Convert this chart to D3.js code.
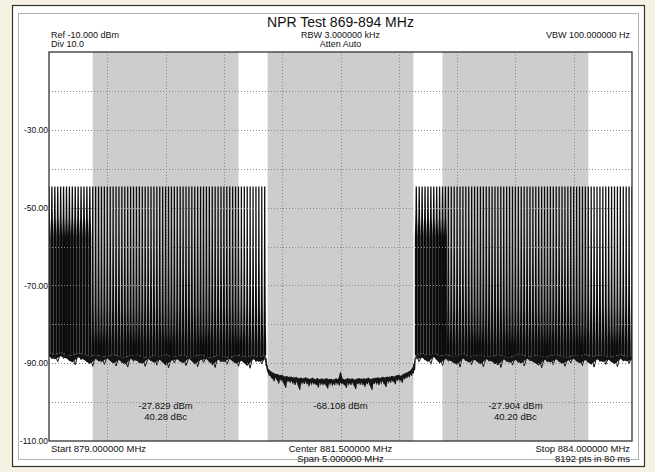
<!DOCTYPE html>
<html><head><meta charset="utf-8">
<script src="https://cdn.jsdelivr.net/npm/d3@7"></script>
<style>
body{margin:0;background:#f6f2e3;}
svg{display:block}
text{font-family:"Liberation Sans",Arial,sans-serif;fill:#111;}
</style>
</head><body><svg id="c" width="655" height="472"></svg>
<script>
// ---------- DATA ----------
const title = "NPR Test 869-894 MHz";
const headerLeft = ["Ref -10.000 dBm", "Div 10.0"];
const headerCenter = ["RBW 3.000000 kHz", "Atten Auto"];
const headerRight = ["VBW 100.000000 Hz"];
const footerLeft = ["Start 879.000000 MHz"];
const footerCenter = ["Center 881.500000 MHz", "Span 5.000000 MHz"];
const footerRight = ["Stop 884.000000 MHz", "8192 pts in 80 ms"];

const freqDomain = [879, 884];          // MHz
const levelDomain = [-110, -10];        // dBm
const yTickValues = [-30, -50, -70, -90, -110];
const yTickLabels = ["-30.00", "-50.00", "-70.00", "-90.00", "-110.00"];
const gridLevels = [-20, -30, -40, -50, -60, -70, -80, -90, -100];
const gridFreqs = [879.5, 880.0, 880.5, 881.0, 881.5, 882.0, 882.5, 883.0, 883.5];

const bandStarts = [879.375, 880.875, 882.375];
const bandStops  = [880.625, 882.125, 883.625];
const bandPower  = ["-27.829 dBm", "-68.108 dBm", "-27.904 dBm"];
const bandRatio  = ["40.28 dBc", "", "40.20 dBc"];

const tonePeak = -44.6; // dBm
const leftTones = [879.000,879.025,879.050,879.075,879.100,879.125,879.150,879.175,879.200,879.225,879.250,879.275,879.300,879.325,879.350,879.375,879.400,879.425,879.450,879.475,879.500,879.525,879.550,879.575,879.600,879.625,879.650,879.675,879.700,879.725,879.750,879.775,879.800,879.825,879.850,879.875,879.900,879.925,879.950,879.975,880.000,880.025,880.050,880.075,880.100,880.125,880.150,880.175,880.200,880.225,880.250,880.275,880.300,880.325,880.350,880.375,880.400,880.425,880.450,880.475,880.500,880.525,880.550,880.575,880.600,880.625,880.650,880.675,880.700,880.725,880.750,880.775,880.800,880.825,880.850];
const rightTones = [882.150,882.175,882.200,882.225,882.250,882.275,882.300,882.325,882.350,882.375,882.400,882.425,882.450,882.475,882.500,882.525,882.550,882.575,882.600,882.625,882.650,882.675,882.700,882.725,882.750,882.775,882.800,882.825,882.850,882.875,882.900,882.925,882.950,882.975,883.000,883.025,883.050,883.075,883.100,883.125,883.150,883.175,883.200,883.225,883.250,883.275,883.300,883.325,883.350,883.375,883.400,883.425,883.450,883.475,883.500,883.525,883.550,883.575,883.600,883.625,883.650,883.675,883.700,883.725,883.750,883.775,883.800,883.825,883.850,883.875,883.900,883.925,883.950,883.975,884.000];
const denseStarts = [879.000, 882.150];
const denseStops  = [879.360, 882.400];

const floorFreqL = [879.00,879.05,879.10,879.15,879.20,879.25,879.30,879.35,879.40,879.45,879.50,879.55,879.60,879.65,879.70,879.75,879.80,879.85,879.90,879.95,880.00,880.05,880.10,880.15,880.20,880.25,880.30,880.35,880.40,880.45,880.50,880.55,880.60,880.65,880.70,880.75,880.80,880.85];
const floorTopL = [-87.4,-87.8,-87.3,-87.9,-88.0,-87.5,-87.7,-88.3,-87.9,-88.2,-88.4,-87.8,-88.3,-88.6,-88.0,-87.8,-88.4,-88.7,-88.0,-88.3,-87.7,-88.5,-88.2,-87.9,-88.6,-88.3,-87.8,-88.4,-88.6,-88.0,-88.3,-88.7,-87.9,-88.2,-88.5,-88.0,-88.4,-88.1];
const floorBotL = [-88.9,-89.6,-88.8,-89.4,-90.4,-89.1,-89.7,-90.8,-89.5,-90.3,-89.3,-90.7,-89.8,-91.0,-89.5,-90.0,-90.8,-89.4,-90.5,-89.7,-91.2,-89.9,-89.6,-90.6,-89.3,-90.9,-89.8,-89.5,-91.1,-89.7,-90.3,-89.4,-90.8,-90.0,-91.3,-89.6,-90.2,-89.8];
const floorFreqR = [882.15,882.20,882.25,882.30,882.35,882.40,882.45,882.50,882.55,882.60,882.65,882.70,882.75,882.80,882.85,882.90,882.95,883.00,883.05,883.10,883.15,883.20,883.25,883.30,883.35,883.40,883.45,883.50,883.55,883.60,883.65,883.70,883.75,883.80,883.85,883.90,883.95,884.00];
const floorTopR = [-88.0,-87.6,-87.9,-87.4,-88.1,-87.8,-88.3,-88.0,-87.6,-88.4,-88.1,-87.8,-88.5,-88.2,-87.9,-88.3,-88.6,-88.0,-87.7,-88.4,-88.2,-87.9,-88.5,-88.1,-87.8,-88.3,-88.6,-88.0,-88.2,-87.7,-88.4,-88.1,-87.9,-88.5,-88.2,-87.8,-88.3,-88.0];
const floorBotR = [-89.6,-89.2,-90.3,-89.0,-90.6,-89.5,-90.1,-91.0,-89.4,-90.4,-89.7,-90.9,-89.5,-90.2,-91.1,-89.6,-90.5,-89.8,-90.7,-89.4,-90.2,-91.2,-89.7,-90.4,-89.6,-90.8,-89.9,-89.5,-90.6,-89.8,-91.0,-89.6,-90.3,-89.7,-90.9,-89.5,-90.1,-89.8];

const notchFreq = [880.86,880.87,880.88,880.90,880.92,880.94,880.96,880.98,881.00,881.02,881.04,881.06,881.08,881.10,881.12,881.14,881.16,881.18,881.20,881.22,881.24,881.26,881.28,881.30,881.32,881.34,881.36,881.38,881.40,881.42,881.44,881.46,881.48,881.50,881.52,881.54,881.56,881.58,881.60,881.62,881.64,881.66,881.68,881.70,881.72,881.74,881.76,881.78,881.80,881.82,881.84,881.86,881.88,881.90,881.92,881.94,881.96,881.98,882.00,882.02,882.04,882.06,882.08,882.10,882.12,882.13,882.14];
const notchTop = [-88.8,-90.6,-91.6,-92.2,-92.6,-92.9,-93.0,-93.3,-93.2,-93.6,-93.5,-93.8,-93.6,-94.0,-93.7,-94.1,-93.9,-94.2,-93.8,-94.1,-94.3,-93.9,-94.4,-94.0,-94.3,-94.1,-94.4,-94.0,-94.3,-94.2,-94.5,-94.1,-94.3,-92.4,-94.2,-94.4,-94.0,-94.3,-94.1,-94.4,-94.2,-94.0,-94.3,-94.1,-94.2,-93.9,-94.3,-94.0,-94.1,-93.8,-94.0,-93.7,-93.9,-93.6,-93.8,-93.4,-93.6,-93.3,-93.2,-93.4,-92.9,-92.8,-92.4,-92.0,-91.2,-90.2,-88.8];
const notchBot = [-90.6,-92.2,-93.2,-93.8,-94.6,-93.9,-95.2,-94.3,-94.8,-96.3,-94.6,-95.0,-94.9,-95.6,-94.9,-96.8,-95.1,-95.3,-95.0,-95.9,-95.2,-95.4,-95.5,-96.2,-95.3,-95.6,-95.4,-96.5,-95.3,-95.5,-95.6,-95.2,-95.7,-95.4,-95.5,-96.3,-95.3,-95.6,-95.2,-96.6,-95.4,-95.5,-95.3,-96.0,-95.4,-95.2,-96.9,-95.3,-95.1,-95.6,-95.0,-94.9,-96.1,-94.8,-95.0,-94.7,-95.4,-94.5,-94.4,-95.0,-94.1,-93.8,-93.6,-93.2,-92.6,-91.8,-90.4];

// ---------- DRAW ----------
const P = {l: 49, r: 632, t: 52, b: 441};
const svg = d3.select("#c");
const x = d3.scaleLinear().domain(freqDomain).range([P.l, P.r]);
const y = d3.scaleLinear().domain(levelDomain).range([P.b, P.t]);

// frame
svg.append("rect").attr("x", 12.5).attr("y", 5.5).attr("width", 632).attr("height", 461)
  .attr("fill", "#fff").attr("stroke", "#333").attr("stroke-width", 1.2);
svg.append("rect").attr("x", 18.5).attr("y", 13.5).attr("width", 620).attr("height", 446)
  .attr("fill", "none").attr("stroke", "#b0b0b0").attr("stroke-width", 1);

svg.append("defs").append("clipPath").attr("id", "pc").append("rect")
  .attr("x", P.l).attr("y", P.t).attr("width", P.r - P.l).attr("height", P.b - P.t);

const plot = svg.append("g").attr("clip-path", "url(#pc)");

// gray measurement bands
plot.selectAll("rect.band").data(bandStarts).enter().append("rect")
  .attr("x", (d) => x(d)).attr("width", (d, i) => x(bandStops[i]) - x(d))
  .attr("y", P.t).attr("height", P.b - P.t).attr("fill", "#cdcdcd");

// vertical grid
plot.selectAll("line.vg").data(gridFreqs).enter().append("line")
  .attr("x1", (d) => Math.round(x(d)) + 0.5).attr("x2", (d) => Math.round(x(d)) + 0.5)
  .attr("y1", P.t).attr("y2", P.b).attr("stroke", "#8a8a8a").attr("stroke-dasharray", "1,2");

// tones
const normalProfile = [[0, 5.5], [-10, 6.0], [-20, 7.0], [-30, 8.5], [-37, 10.5], [-41, 12.5]];
const denseProfile  = [[0, 5.5], [-8, 8.0], [-13, 12.5]];
const line = d3.line().x((d) => d[0]).y((d) => d[1]);

function zigzag(fr, tp, bt) {
  const pts = [];
  fr.forEach((f, i) => {
    pts.push([x(f), y(tp[i])]);
    if (i < fr.length - 1) pts.push([x((f + fr[i + 1]) / 2), y(bt[i])]);
  });
  return pts;
}

function drawComb(tones, fF, fT, fB) {
  const floorAt = d3.scaleLinear().domain(fF).range(fT).clamp(true);
  const g = plot.append("g");
  const pts = fF.map((f, i) => [x(f), y(fT[i])]);
  const pb = fF.map((f, i) => [x(f), y(fB[i] + 0.6)]).reverse();
  g.append("path").attr("d", line(pts.concat(pb)) + "Z").attr("fill", "#141414");
  g.append("path").attr("d", line(zigzag(fF, fT, fB))).attr("fill", "none")
    .attr("stroke", "#141414").attr("stroke-width", 1);
  tones.forEach((f0) => {
    let dense = false;
    denseStarts.forEach((s, i) => { if (f0 >= s - 1e-6 && f0 <= denseStops[i] + 1e-6) dense = true; });
    const prof = dense ? denseProfile : normalProfile;
    const fl = floorAt(f0);
    const left = [], right = [];
    left.push([x(f0 - 0.0125), y(fl)]);
    for (let k = prof.length - 1; k >= 0; k--) {
      const lev = tonePeak + prof[k][0];
      if (lev < fl) continue;
      left.push([x(f0 - prof[k][1] / 1000), y(lev)]);
    }
    for (let k = 0; k < prof.length; k++) {
      const lev = tonePeak + prof[k][0];
      if (lev < fl) continue;
      right.push([x(f0 + prof[k][1] / 1000), y(lev)]);
    }
    right.push([x(f0 + 0.0125), y(fl)]);
    g.append("path").attr("d", line(left.concat(right)) + "Z").attr("fill", "#0c0c0c");
  });
}
drawComb(leftTones, floorFreqL, floorTopL, floorBotL);
drawComb(rightTones, floorFreqR, floorTopR, floorBotR);

// notch noise trace
{
  const top = notchFreq.map((f, i) => [x(f), y(notchTop[i] + 0.2)]);
  const bot = notchFreq.map((f, i) => [x(f), y(notchBot[i] + 0.4)]);
  plot.append("path").attr("d", line(top.concat(bot.slice().reverse())) + "Z")
    .attr("fill", "#1e1e1e");
  plot.append("path").attr("d", line(zigzag(notchFreq, notchTop, notchBot)))
    .attr("fill", "none").attr("stroke", "#141414").attr("stroke-width", 1.2);
  plot.append("path").attr("d", line([[x(880.852), y(-88.2)], [x(notchFreq[0]), y(notchTop[0])], [x(notchFreq[0]), y(notchBot[0])]]))
    .attr("stroke", "#111").attr("stroke-width", 1).attr("fill", "none");
  plot.append("path").attr("d", line([[x(882.148), y(-88.2)], [x(notchFreq[notchFreq.length - 1]), y(notchTop[notchTop.length - 1])]]))
    .attr("stroke", "#111").attr("stroke-width", 1).attr("fill", "none");
}

// horizontal grid (drawn over trace)
plot.selectAll("line.hg").data(gridLevels).enter().append("line")
  .attr("x1", P.l).attr("x2", P.r)
  .attr("y1", (d) => Math.round(y(d)) + 0.5).attr("y2", (d) => Math.round(y(d)) + 0.5)
  .attr("stroke", "#8a8a8a").attr("stroke-dasharray", "1,2");

// plot border
svg.append("rect").attr("x", P.l).attr("y", P.t).attr("width", P.r - P.l).attr("height", P.b - P.t)
  .attr("fill", "none").attr("stroke", "#333").attr("stroke-width", 1.3);

// y axis labels
const yAxis = d3.axisLeft(y).tickValues(yTickValues).tickSize(0).tickPadding(1)
  .tickFormat((d, i) => yTickLabels[i]);
const ya = svg.append("g").attr("transform", `translate(${P.l},0)`).call(yAxis);
ya.select(".domain").remove();
ya.selectAll("text").style("font-family", '"Liberation Sans",Arial,sans-serif')
  .style("font-size", "8.5px").attr("fill", "#111");

// texts
function txt(s, xx, yy, anchor, size) {
  svg.append("text").attr("x", xx).attr("y", yy).attr("text-anchor", anchor)
    .style("font-size", size + "px").text(s);
}
const cx = x((freqDomain[0] + freqDomain[1]) / 2);
txt(title, cx, 27, "middle", 14);
headerLeft.forEach((s, i) => txt(s, 51, 37.5 + i * 9.5, "start", 9));
headerCenter.forEach((s, i) => txt(s, cx, 37.5 + i * 9.5, "middle", 9));
headerRight.forEach((s, i) => txt(s, 630, 37.5 + i * 9.5, "end", 9));
footerLeft.forEach((s, i) => txt(s, 51, 452 + i * 10, "start", 9.5));
footerCenter.forEach((s, i) => txt(s, cx, 452 + i * 10, "middle", 9.5));
footerRight.forEach((s, i) => txt(s, 630, 452 + i * 10, "end", 9.5));
bandStarts.forEach((s, i) => {
  const m = x((s + bandStops[i]) / 2);
  txt(bandPower[i], m, 408.5, "middle", 9.5);
  if (bandRatio[i]) txt(bandRatio[i], m, 419.5, "middle", 9.5);
});
</script>
</body></html>
